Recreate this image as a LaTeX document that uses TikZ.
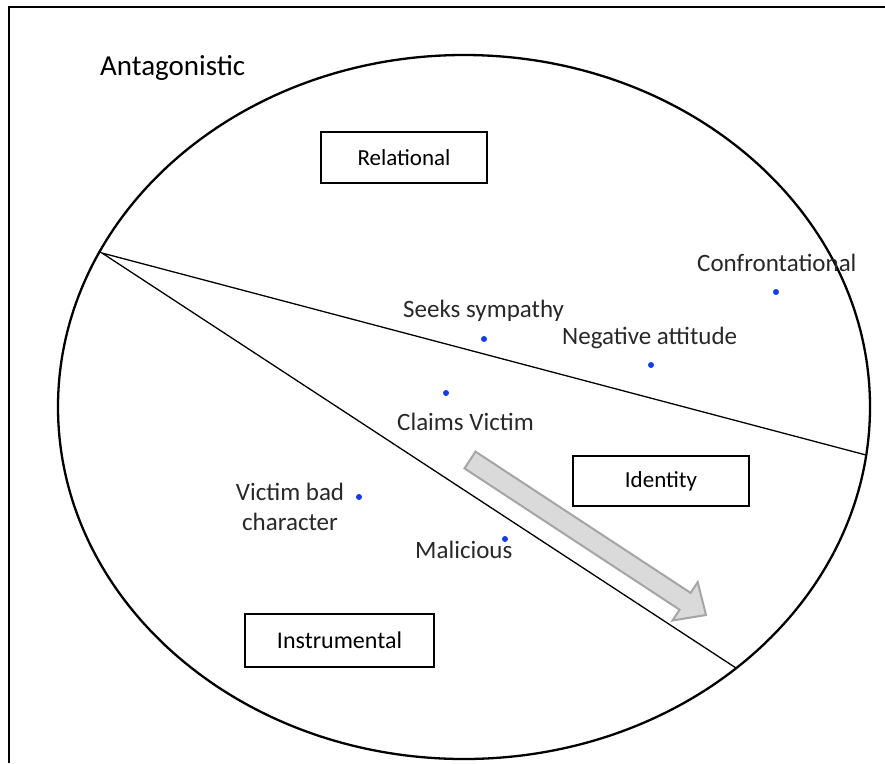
\documentclass[tikz,border=0pt]{standalone}
\usepackage{fontspec}
\setmainfont{Carlito}
\usepackage{xcolor}
\usepackage{tikz}

\definecolor{dotblue}{RGB}{20,60,235}
\definecolor{txtgray}{RGB}{40,40,40}
\definecolor{arrowgray}{RGB}{165,165,165}
\definecolor{arrowfill}{RGB}{218,218,218}

\begin{document}
\begin{tikzpicture}[x=1pt, y=-1pt]

		\tikzset{
			dot/.style={circle, fill=dotblue, inner sep=0pt, minimum size=6pt},
			lbl/.style={font=\fontsize{25}{30}\selectfont, text=txtgray, inner sep=0pt},
			boxed/.style={draw, line width=1.2pt, inner sep=0pt, font=\fontsize{23}{28}\selectfont},
			divider/.style={line width=1.3pt},
		}
		
		\useasboundingbox (0,0) rectangle (885,763);
		
		\draw [line width=2.6pt] (9,763) -- (9,7) -- (885,7);
		
		\draw [line width=2.3pt] (464,407) ellipse [x radius=406pt, y radius=352pt];
		
		\coordinate (apex) at (102,253);
		\coordinate (rimR) at (866,455);
		\coordinate (rimB) at (736,668);
		\draw [divider] (rimR) -- (apex) -- (rimB);
		
		\draw [line width=2pt, draw=arrowgray, fill=arrowfill, line join=miter]
			(464.5,468.4) -- (475.5,451.6) -- (690.6,592.9) -- (697.7,582.1)
			-- (706,615) -- (672.5,620.5) -- (679.6,609.7) -- cycle;
		
		\node (title) [anchor=base west, inner sep=0pt, font=\fontsize{29}{35}\selectfont] at (100,75) {Antagonistic};
		
		\node (relational) [boxed, minimum width=166pt, minimum height=51pt] at (404,157.5) {Relational};
		\node (identity) [boxed, minimum width=176pt, minimum height=50pt] at (661,481) {Identity};
		\node (instrumental) [boxed, minimum width=189pt, minimum height=53pt, font=\fontsize{24}{28}\selectfont] at (339.5,640.5) {Instrumental};
		
		\node (dConf) [dot] at (776,292) {};
		\node (lConf) [lbl, anchor=base west] at (697,271) {Confrontational};
		
		\node (dSeek) [dot] at (484,339) {};
		\node (lSeek) [lbl, anchor=base west] at (403,317) {Seeks sympathy};
		
		\node (dNeg) [dot] at (651,365) {};
		\node (lNeg) [lbl, anchor=base west] at (562,344) {Negative attitude};
		
		\node (dClaim) [dot] at (446,393) {};
		\node (lClaim) [lbl, anchor=base west] at (397,430) {Claims Victim};
		
		\node (dBad) [dot] at (359,497) {};
		\node (lBad) [lbl, align=center, anchor=north] at (290,483) {Victim bad\\character};
		
		\node (dMal) [dot] at (505,539) {};
		\node (lMal) [lbl, anchor=base west] at (415,558) {Malicious};
		
\end{tikzpicture}
\end{document}
